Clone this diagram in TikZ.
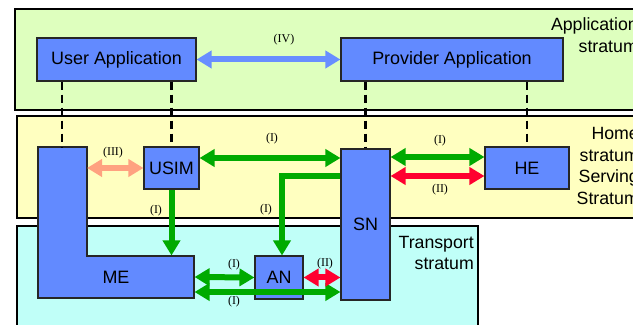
\documentclass[tikz,border=0pt]{standalone}
\usepackage{fontspec}
\setmainfont{Liberation Sans}
\newfontfamily\lblfont{Liberation Serif}
\usetikzlibrary{arrows.meta}
\definecolor{boxblue}{RGB}{98,138,255}
\definecolor{appfill}{RGB}{222,255,190}
\definecolor{homefill}{RGB}{255,255,192}
\definecolor{transfill}{RGB}{192,255,248}
\definecolor{lgreen}{RGB}{0,170,0}
\definecolor{lred}{RGB}{255,0,48}
\definecolor{lsalmon}{RGB}{255,162,128}
\definecolor{lblue}{RGB}{104,142,255}
\begin{document}
\begin{tikzpicture}[>={Triangle[width=17bp,length=15bp]},line join=miter,
  box/.style={draw=black!85,line width=1.1bp,fill=boxblue,inner sep=0pt,
    font=\fontsize{18}{20}\selectfont},
  stratum/.style={draw=black,line width=1.2bp},
  stext/.style={inner sep=0pt,align=right,font=\fontsize{17.8}{21.5}\selectfont},
  lbl/.style={inner sep=0pt,font=\lblfont\fontsize{12}{14}\selectfont},
  link/.style={line width=6bp,<->},
  vdash/.style={line width=2.2bp,dash pattern=on 8bp off 5bp},
]
\useasboundingbox (0bp,0bp) rectangle (633bp,325bp);
%% strata
\draw [stratum,fill=appfill] (15bp,316bp) rectangle (660bp,215bp);
\draw [stratum,fill=homefill] (17bp,209bp) rectangle (660bp,107bp);
\draw [stratum,fill=transfill] (17bp,99bp) rectangle (478bp,-20bp);
\node (apptext) at (638bp,290bp) [stext,anchor=east] {Application\\stratum};
\node (hometext) at (639bp,159bp) [stext,anchor=east] {Home\\stratum\\Serving\\Stratum};
\node (transtext) at (474bp,72bp) [stext,anchor=east] {Transport\\stratum};
%% boxes
\node (UA) at (116.5bp,265.5bp) [box,minimum width=159bp,minimum height=43bp] {User Application};
  \node (PA) at (452bp,265.5bp) [box,minimum width=222bp,minimum height=43bp] {Provider Application};
  \node (USIM) at (171.5bp,157bp) [box,minimum width=55bp,minimum height=42bp] {USIM};
  \node (HE) at (527bp,157bp) [box,minimum width=84bp,minimum height=42bp] {HE};
  \node (SN) at (365.5bp,100.5bp) [box,minimum width=49bp,minimum height=151bp] {SN};
  \node (AN) at (279bp,47.5bp) [box,minimum width=48bp,minimum height=43bp] {AN};
  \draw [box] (38bp,178bp) -- (87bp,178bp) -- (87bp,69bp) -- (194bp,69bp) -- (194bp,27bp) -- (38bp,27bp) -- cycle;
  \node (ME) at (116bp,48bp) [box,draw=none,fill=none,minimum width=156bp,minimum height=42bp] {ME};
  \coordinate (MEtop) at (62bp,178bp);
  \coordinate (MEarm) at (87bp,157bp);
%% dashed links
\draw [vdash] (UA.south -| MEtop) -- (MEtop);
  \draw [vdash] (USIM.north |- UA.south) -- (USIM.north);
  \draw [vdash] (SN.north |- PA.south) -- (SN.north);
  \draw [vdash] (HE.north |- PA.south) -- (HE.north);
%% arrows
\draw [link,lblue] (UA.east) -- (PA.west);
  \draw [link,lsalmon] (MEarm) -- (USIM.west);
  \draw [link,lgreen,-> ] (USIM.south) -- (USIM.south |- ME.north);
  \draw [link,lgreen] ([yshift=10bp]USIM.east) -- ([yshift=10bp]USIM.east -| SN.west);
  \draw [link,lgreen,->] ([yshift=-28bp]SN.north west) -| ([xshift=3bp]AN.north);
  \draw [link,lgreen] ([yshift=11bp]HE.west -| SN.east) -- ([yshift=11bp]HE.west);
  \draw [link,lred] ([yshift=-8bp]HE.west -| SN.east) -- ([yshift=-8bp]HE.west);
  \draw [link,lgreen] (ME.east) -- (AN.west);
  \draw [link,lgreen] ([yshift=-15bp]ME.east) -- ([yshift=-15bp]ME.east -| SN.west);
  \draw [link,lred] (AN.east) -- (AN.east -| SN.west);
%% labels
\node (lIV) at (284bp,285bp) [lbl] {(IV)};
  \node (lIII) at (113bp,172bp) [lbl] {(III)};
  \node (lUM) at (156bp,114bp) [lbl] {(I)};
  \node (lUS) at (272bp,186bp) [lbl] {(I)};
  \node (lSA) at (266bp,115bp) [lbl] {(I)};
  \node (lSH) at (440bp,184bp) [lbl] {(I)};
  \node (lSHr) at (440bp,135bp) [lbl] {(II)};
  \node (lMA) at (234bp,60bp) [lbl] {(I)};
  \node (lMS) at (234bp,23bp) [lbl] {(I)};
  \node (lAS) at (325bp,61bp) [lbl] {(II)};
%
\end{tikzpicture}
\end{document}
